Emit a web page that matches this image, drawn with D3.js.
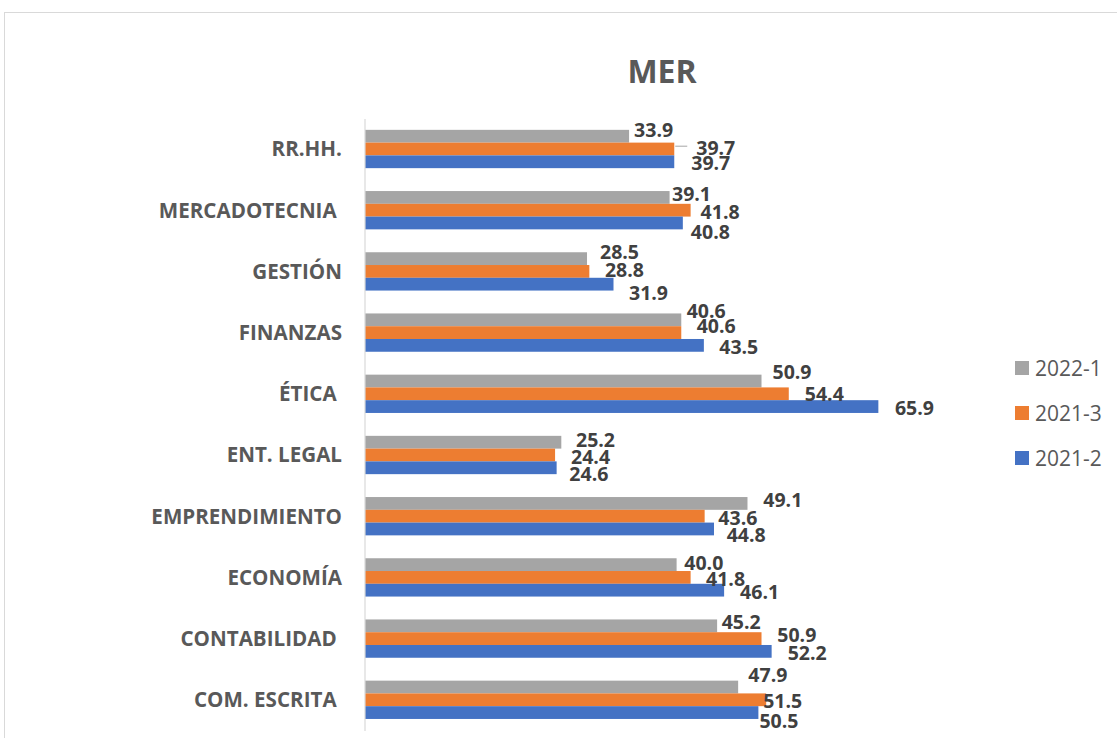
<!DOCTYPE html>
<html>
<head>
<meta charset="utf-8">
<script src="https://cdn.jsdelivr.net/npm/d3@7"></script>
<style>
  html, body { margin: 0; padding: 0; background: #ffffff; }
  svg { display: block; }
  text { white-space: pre; }
</style>
</head>
<body>
<svg id="chart" width="1117" height="738"></svg>
<script>
// ---- data ----
const title = "MER";
const categories = ["RR.HH.", "MERCADOTECNIA ", "GESTIÓN", "FINANZAS", "ÉTICA ", "ENT. LEGAL",
                    "EMPRENDIMIENTO", "ECONOMÍA", "CONTABILIDAD ", "COM. ESCRITA "];
const seriesNames = ["2022-1", "2021-3", "2021-2"];
const values2022_1 = [33.9, 39.1, 28.5, 40.6, 50.9, 25.2, 49.1, 40.0, 45.2, 47.9];
const values2021_3 = [39.7, 41.8, 28.8, 40.6, 54.4, 24.4, 43.6, 41.8, 50.9, 51.5];
const values2021_2 = [39.7, 40.8, 31.9, 43.5, 65.9, 24.6, 44.8, 46.1, 52.2, 50.5];
const seriesColors = ["#A5A5A5", "#ED7D31", "#4472C4"];

// manual data-label nudges (px, relative to default label spot), as in the source chart
const nudge2022_1 = [[5,-6.7],[2.4,-3.8],[13,-6.6],[5.4,-8.8],[11,-9],[14.7,-2.7],[15.8,-3],[7.7,-1.3],[4.6,-4.3],[10.2,-12.5]];
const nudge2021_3 = [[22,-1.3],[10,1.7],[15.6,-1.5],[15.4,-7],[16,0],[16,2],[13.7,1.7],[15.4,1.2],[15.8,-3.7],[-3,1.4]];
const nudge2021_2 = [[17,1],[8,9],[15.5,8.5],[15.4,1.5],[16.6,1.3],[12.7,6],[12.7,6],[16,1.4],[16,1.8],[1,8.3]];

const seriesValues = [values2022_1, values2021_3, values2021_2];
const seriesNudges = [nudge2022_1, nudge2021_3, nudge2021_2];

// ---- layout ----
const svg = d3.select("#chart");
const FONT = "'Open Sans', 'DejaVu Sans', sans-serif";

// chart border
svg.append("rect")
  .attr("x", 4.5).attr("y", 12.5)
  .attr("width", 1130).attr("height", 740)
  .attr("fill", "none").attr("stroke", "#D9D9D9").attr("stroke-width", 1);

// title
svg.append("text")
  .attr("x", 662).attr("y", 83)
  .attr("text-anchor", "middle")
  .attr("font-family", FONT).attr("font-weight", 700).attr("font-size", 32)
  .attr("fill", "#595959")
  .text(title);

const x = d3.scaleLinear().domain([0, 70]).range([365, 910.3]);
const y0 = d3.scaleBand().domain(categories).range([118.4, 730.4])
  .paddingInner(0.374).paddingOuter(0.187);
const y1 = d3.scaleBand().domain(seriesNames).range([0, y0.bandwidth()]);

const fmt = d3.format(".1f");

const rows = [];
categories.forEach((c, i) => {
  seriesNames.forEach((s, j) => {
    rows.push({ cat: c, series: s, value: seriesValues[j][i], color: seriesColors[j], nudge: seriesNudges[j][i] });
  });
});

// bars
svg.append("g").selectAll("rect")
  .data(rows)
  .join("rect")
  .attr("x", x(0))
  .attr("y", d => y0(d.cat) + y1(d.series))
  .attr("width", d => x(d.value) - x(0))
  .attr("height", y1.bandwidth())
  .attr("fill", d => d.color);

// axis line (category axis)
const yAxis = d3.axisLeft(y0).tickSize(0).tickFormat("");
const ag = svg.append("g").attr("transform", `translate(${x(0) - 0.5},0)`).call(yAxis);
ag.select(".domain").attr("stroke", "#D9D9D9").attr("stroke-width", 1.2);

// category labels
svg.append("g").selectAll("text")
  .data(categories)
  .join("text")
  .attr("x", 342)
  .attr("y", c => y0(c) + y0.bandwidth() / 2)
  .attr("dy", "0.36em")
  .attr("text-anchor", "end")
  .attr("xml:space", "preserve")
  .attr("font-family", FONT).attr("font-weight", 700).attr("font-size", 20.6)
  .attr("fill", "#595959")
  .text(c => c);

// leader lines for labels dragged far from their bar
svg.append("g").selectAll("line")
  .data(rows.filter(d => d.nudge[0] > 20))
  .join("line")
  .attr("x1", d => x(d.value) + 1)
  .attr("x2", d => x(d.value) + d.nudge[0] - 9)
  .attr("y1", d => y0(d.cat) + y1(d.series) + y1.bandwidth() / 2 + d.nudge[1] - 1.5)
  .attr("y2", d => y0(d.cat) + y1(d.series) + y1.bandwidth() / 2 + d.nudge[1] - 1.5)
  .attr("stroke", "#A5A5A5").attr("stroke-width", 1);

// data labels
svg.append("g").selectAll("text")
  .data(rows)
  .join("text")
  .attr("x", d => x(d.value) + d.nudge[0])
  .attr("y", d => y0(d.cat) + y1(d.series) + y1.bandwidth() / 2 + d.nudge[1])
  .attr("dy", "0.36em")
  .attr("font-family", FONT).attr("font-weight", 700).attr("font-size", 19.5)
  .attr("fill", "#404040")
  .text(d => fmt(d.value));

// legend
const legendY = d3.scalePoint().domain(seriesNames).range([368, 458]);
const lg = svg.append("g").selectAll("g")
  .data(seriesNames)
  .join("g")
  .attr("transform", s => `translate(1015,${legendY(s)})`);
lg.append("rect")
  .attr("x", 0).attr("y", -7).attr("width", 14).attr("height", 14)
  .attr("fill", (s, i) => seriesColors[i]);
lg.append("text")
  .attr("x", 20).attr("y", 0).attr("dy", "0.36em")
  .attr("font-family", FONT).attr("font-size", 21)
  .attr("fill", "#595959")
  .text(s => s);
</script>
</body>
</html>
